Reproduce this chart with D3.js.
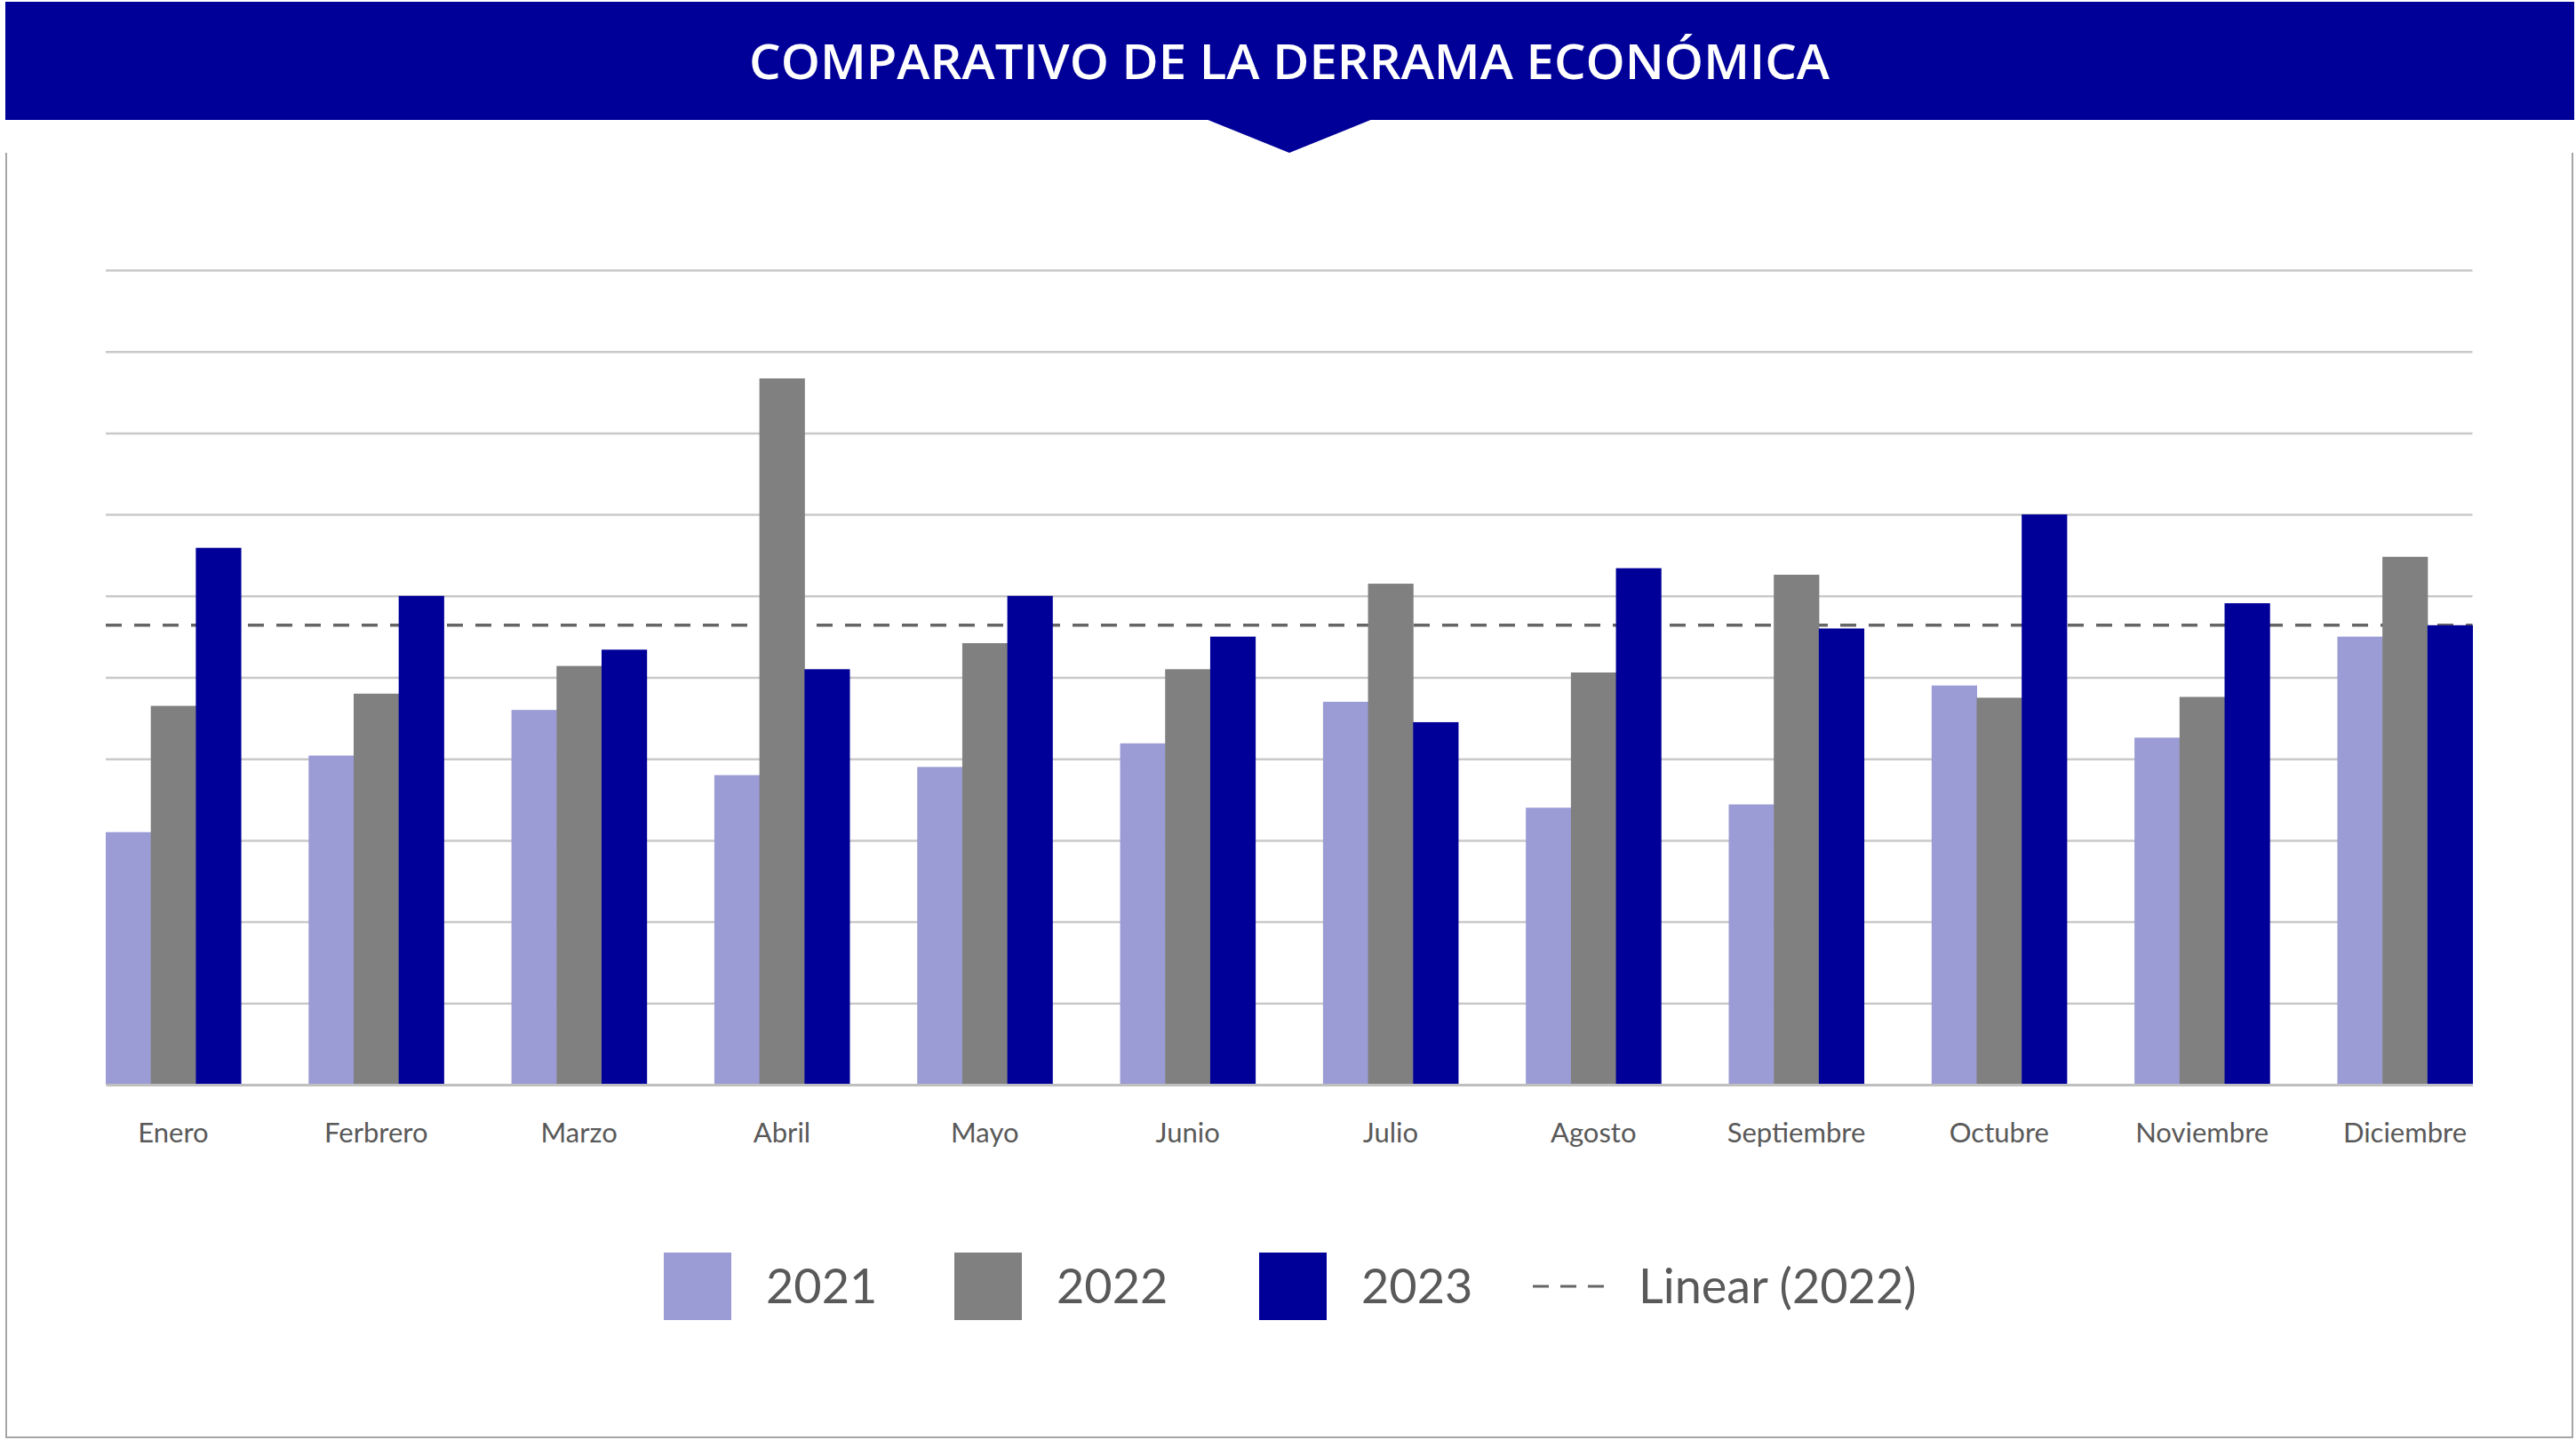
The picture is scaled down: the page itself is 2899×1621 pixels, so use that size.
<!DOCTYPE html>
<html>
<head>
<meta charset="utf-8">
<script src="https://cdn.jsdelivr.net/npm/d3@7"></script>
<style>
  html, body { margin: 0; padding: 0; background: #fff; }
  svg { display: block; }
</style>
</head>
<body>
<div id="chart"></div>
<script>
// months on the x axis
var months = ["Enero","Ferbrero","Marzo","Abril","Mayo","Junio","Julio","Agosto","Septiembre","Octubre","Noviembre","Diciembre"];
var years = ["2021","2022","2023"];

// values (gridline units, no y labels in the original)
var v2021 = [3.10, 4.04, 4.60, 3.80, 3.90, 4.19, 4.70, 3.40, 3.44, 4.90, 4.26, 5.50];
var v2022 = [4.65, 4.80, 5.14, 8.67, 5.42, 5.10, 6.15, 5.06, 6.26, 4.75, 4.76, 6.48];
var v2023 = [6.59, 6.00, 5.34, 5.10, 6.00, 5.50, 4.45, 6.34, 5.60, 7.00, 5.91, 5.64];

// linear trend of 2022, value at first and last month
var trend2022 = [5.64, 5.64];

var gridTicks = [1,2,3,4,5,6,7,8,9,10];
var title = "COMPARATIVO DE LA DERRAMA ECONÓMICA";
var legendLabels = ["2021","2022","2023","Linear (2022)"];

var colors = {"2021": "#9b9bd5", "2022": "#808080", "2023": "#000099"};

var W = 2899, H = 1621;
var plot = {left: 119, right: 2782.5, top: 304, bottom: 1221};

var svg = d3.select("#chart").append("svg")
    .attr("width", W)
    .attr("height", H);

// header banner
var blue = "#000099";
svg.append("rect")
    .attr("x", 6).attr("y", 2)
    .attr("width", 2891).attr("height", 133)
    .attr("fill", blue);
svg.append("path")
    .attr("d", "M1357,134 L1545,134 L1451,172 Z")
    .attr("fill", blue);
svg.append("text")
    .attr("x", 1451).attr("y", 89)
    .attr("text-anchor", "middle")
    .attr("fill", "#fff")
    .style("font-family", "'Open Sans', sans-serif")
    .style("font-weight", 600)
    .style("font-size", "54px")
    .attr("textLength", 1216)
    .attr("lengthAdjust", "spacingAndGlyphs")
    .text(title);

// frame around the chart
var frame = d3.path();
frame.moveTo(7, 172); frame.lineTo(7, 1618); frame.lineTo(2895, 1618); frame.lineTo(2895, 172);
svg.append("path")
    .attr("d", frame.toString())
    .attr("fill", "none")
    .attr("stroke", "#a6a6a6")
    .attr("stroke-width", 2);

// scales
var data = months.map(function(m, i) {
    return {month: m, "2021": v2021[i], "2022": v2022[i], "2023": v2023[i]};
});

var x = d3.scaleBand()
    .domain(months)
    .range([plot.left, plot.right])
    .paddingInner(0.334)
    .paddingOuter(0);

var xSub = d3.scaleBand()
    .domain(years)
    .range([0, x.bandwidth()])
    .padding(0);

var y = d3.scaleLinear()
    .domain([0, 10])
    .range([plot.bottom, plot.top]);

// gridlines
var grid = svg.append("g")
    .attr("transform", "translate(" + plot.left + ",0)")
    .call(d3.axisLeft(y).tickValues(gridTicks).tickSize(-(plot.right - plot.left)).tickFormat(""));
grid.select(".domain").remove();
grid.selectAll(".tick line")
    .attr("stroke", "#c9c9c9")
    .attr("stroke-width", 2.5);

// trend line (behind bars)
var trendX = d3.scaleLinear().domain([0, 1]).range([plot.left, plot.right]);
svg.append("line")
    .attr("x1", trendX(0)).attr("x2", trendX(1))
    .attr("y1", y(trend2022[0])).attr("y2", y(trend2022[1]))
    .attr("stroke", "#666666")
    .attr("stroke-width", 3.5)
    .attr("stroke-dasharray", "18,14");

// bars
var groups = svg.selectAll(".month")
    .data(data)
    .enter().append("g")
    .attr("class", "month")
    .attr("transform", function(d) { return "translate(" + x(d.month) + ",0)"; });

groups.selectAll("rect")
    .data(function(d) { return years.map(function(yr) { return {year: yr, value: d[yr]}; }); })
    .enter().append("rect")
    .attr("x", function(d) { return xSub(d.year); })
    .attr("y", function(d) { return y(d.value); })
    .attr("width", xSub.bandwidth() + 0.5)
    .attr("height", function(d) { return y(0) - y(d.value); })
    .attr("fill", function(d) { return colors[d.year]; });

// x axis
var xAxis = svg.append("g")
    .attr("transform", "translate(0," + plot.bottom + ")")
    .call(d3.axisBottom(x).tickSize(0));
xAxis.select(".domain")
    .attr("stroke", "#bfbfbf")
    .attr("stroke-width", 3);
xAxis.selectAll("text")
    .attr("y", 65)
    .attr("dy", 0)
    .attr("fill", "#595959")
    .style("font-family", "Lato, sans-serif")
    .style("font-size", "31px");

// legend
var legendX = [747, 1074, 1417, 1725];
var legend = svg.append("g").attr("class", "legend");
legendLabels.forEach(function(lbl, i) {
    var g = legend.append("g").attr("transform", "translate(" + legendX[i] + ",0)");
    var textX;
    if (i < 3) {
        g.append("rect")
            .attr("x", 0).attr("y", 1410)
            .attr("width", 76).attr("height", 76)
            .attr("fill", colors[years[i]]);
        textX = 115;
    } else {
        g.append("line")
            .attr("x1", 0).attr("x2", 80)
            .attr("y1", 1448).attr("y2", 1448)
            .attr("stroke", "#666666")
            .attr("stroke-width", 3)
            .attr("stroke-dasharray", "18,13");
        textX = 119;
    }
    g.append("text")
        .attr("x", textX).attr("y", 1467)
        .attr("fill", "#595959")
        .style("font-family", "Lato, sans-serif")
        .style("font-size", "54px")
        .text(lbl);
});
</script>
</body>
</html>
